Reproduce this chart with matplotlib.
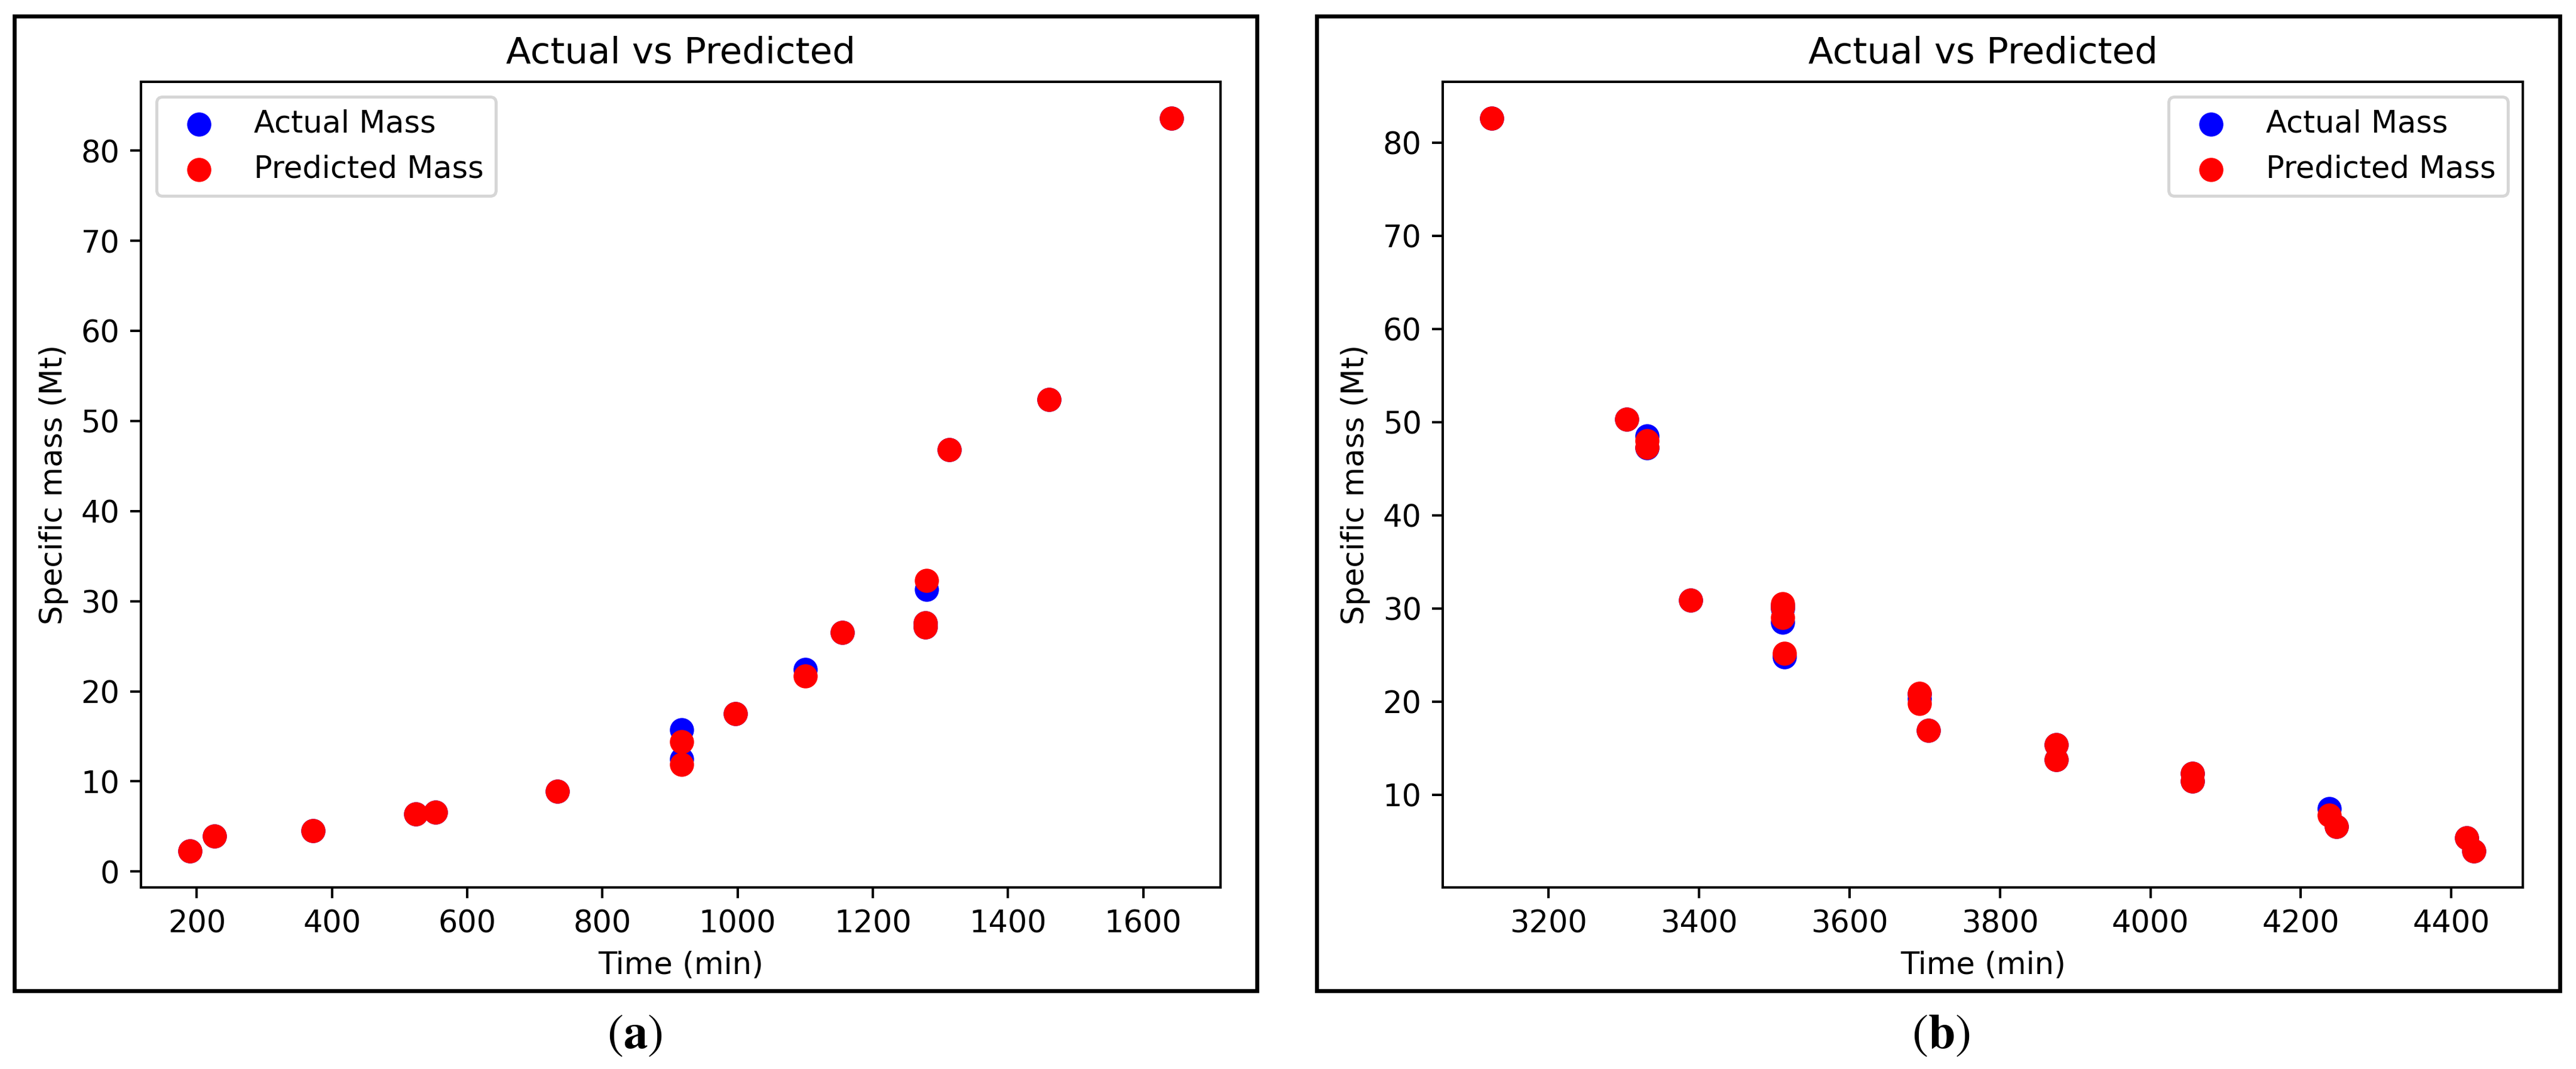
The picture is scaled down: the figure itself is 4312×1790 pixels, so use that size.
import matplotlib
matplotlib.use('Agg')
import matplotlib.pyplot as plt
from matplotlib.patches import Rectangle

plt.rcParams['mathtext.fontset'] = 'stix'

# panel (a): growth phase
time_a = [190, 226, 372, 524, 553, 733, 917, 917, 997, 1100, 1155, 1278, 1278, 1280, 1313, 1461, 1642]
actual_a = [2.3, 3.9, 4.5, 6.4, 6.6, 8.9, 15.7, 12.5, 17.5, 22.4, 26.5, 27.6, 27.1, 31.3, 46.8, 52.4, 83.6]
pred_a = [2.3, 3.9, 4.5, 6.4, 6.6, 8.9, 14.4, 11.9, 17.5, 21.7, 26.5, 27.6, 27.1, 32.3, 46.8, 52.4, 83.6]

# panel (b): decay phase
time_b = [3125, 3304, 3331, 3331, 3389, 3511, 3511, 3511, 3514, 3693, 3693, 3705,
          3875, 3875, 4056, 4056, 4238, 4247, 4420, 4430]
actual_b = [82.6, 50.3, 48.5, 47.2, 30.9, 30.3, 30.0, 28.5, 24.8, 20.8, 20.3, 16.9,
            15.4, 13.8, 12.3, 11.5, 8.5, 6.6, 5.4, 4.0]
pred_b = [82.6, 50.3, 48.0, 47.3, 30.9, 30.5, 30.1, 29.0, 25.2, 20.9, 19.8, 16.9,
          15.4, 13.8, 12.3, 11.5, 7.8, 6.6, 5.4, 4.0]

W, H, DPI = 4312, 1790, 367
fig = plt.figure(figsize=((W + 0.4) / DPI, (H + 0.4) / DPI), dpi=DPI)

ax1 = fig.add_axes([236 / W, 1 - 1486 / H, 1807 / W, 1349 / H])
ax2 = fig.add_axes([2415 / W, 1 - 1486 / H, 1808 / W, 1349 / H])

for ax, t, act, pre, loc in [(ax1, time_a, actual_a, pred_a, 'upper left'),
                             (ax2, time_b, actual_b, pred_b, 'upper right')]:
    ax.scatter(t, act, color='blue', s=48, label='Actual Mass')
    ax.scatter(t, pre, color='red', s=48, label='Predicted Mass')
    ax.set_xlabel('Time (min)')
    ax.set_ylabel('Specific mass (Mt)')
    ax.set_title('Actual vs Predicted')
    ax.legend(loc=loc)

# black frames around each panel
for x0, x1 in [(24, 2104), (2204, 4285)]:
    fig.patches.append(Rectangle((x0 / W, 1 - 1659 / H), (x1 - x0) / W, (1659 - 27) / H,
                                 transform=fig.transFigure, fill=False, lw=1.3,
                                 ec='black', joinstyle='miter'))

fig.text(1062 / W, 1 - 1732 / H, r'$(\mathbf{a})$', ha='center', va='center', fontsize=16)
fig.text(3249 / W, 1 - 1732 / H, r'$(\mathbf{b})$', ha='center', va='center', fontsize=16)

fig.savefig('out.png', dpi=DPI)
